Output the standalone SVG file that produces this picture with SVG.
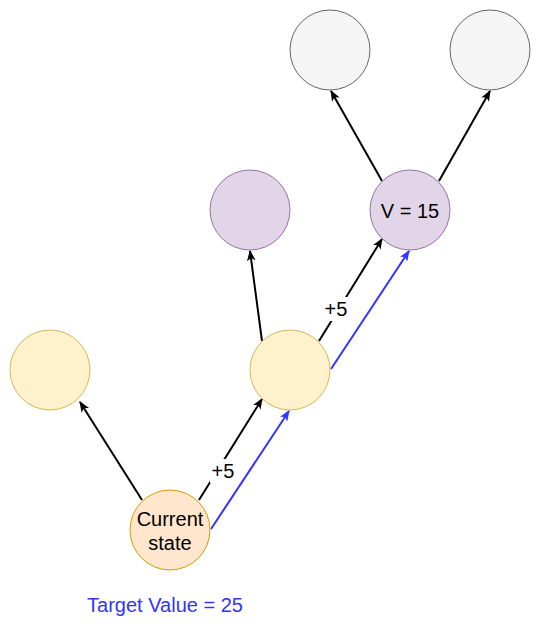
<svg xmlns="http://www.w3.org/2000/svg" width="541" height="631" viewBox="0 0 541 631">
<style>
text{font-family:"Liberation Sans",Arial,sans-serif;font-size:20px;fill:#000;text-anchor:middle}
.e{stroke:#000;stroke-width:2;fill:none}
.b{stroke:#3333ff;stroke-width:2;fill:none}
.gray{fill:#f5f5f5;stroke:#666666}
.pur{fill:#e1d5e7;stroke:#9673a6}
.yel{fill:#fff2cc;stroke:#d6b656}
.ora{fill:#ffe6cc;stroke:#d79b00}
</style>
<defs>
<marker id="ak" viewBox="0 0 10 8" refX="9" refY="4" markerWidth="5.5" markerHeight="4.4" orient="auto" markerUnits="strokeWidth"><path d="M0,0 L10,4 L0,8 L2.5,4 Z" fill="#000"/></marker>
<marker id="ab" viewBox="0 0 10 8" refX="9" refY="4" markerWidth="5.5" markerHeight="4.4" orient="auto" markerUnits="strokeWidth"><path d="M0,0 L10,4 L0,8 L2.5,4 Z" fill="#3333ff"/></marker>
</defs>
<g id="connectors">
<line class="e" x1="142" y1="500" x2="80" y2="402" marker-end="url(#ak)"/>
<line class="e" x1="199" y1="500" x2="262" y2="399" marker-end="url(#ak)"/>
<line class="b" x1="211" y1="529" x2="289" y2="411" marker-end="url(#ab)"/>
<line class="e" x1="262" y1="341" x2="250" y2="251" marker-end="url(#ak)"/>
<line class="e" x1="319" y1="341" x2="382" y2="239" marker-end="url(#ak)"/>
<line class="b" x1="331" y1="369" x2="409" y2="251" marker-end="url(#ab)"/>
<line class="e" x1="382" y1="181" x2="331" y2="91" marker-end="url(#ak)"/>
<line class="e" x1="439" y1="181" x2="490" y2="91" marker-end="url(#ak)"/>
<rect x="210" y="459" width="26" height="24" fill="#fff"/>
<text x="223" y="478">+5</text>
<rect x="323" y="297" width="26" height="24" fill="#fff"/>
<text x="336" y="316">+5</text>
</g>
<g id="n1"><circle class="gray" cx="330" cy="50" r="40"/></g>
<g id="n2"><circle class="gray" cx="490" cy="50" r="40"/></g>
<g id="n3"><circle class="pur" cx="250" cy="210" r="40"/></g>
<g id="n4"><circle class="pur" cx="410" cy="210" r="40"/><text x="410" y="218">V = 15</text></g>
<g id="n5"><circle class="yel" cx="50" cy="370" r="40"/></g>
<g id="n6"><circle class="yel" cx="290" cy="370" r="40"/></g>
<g id="n7"><circle class="ora" cx="170" cy="530" r="40"/><text x="170" y="526">Current</text><text x="170" y="550">state</text></g>
<g id="target"><text x="165" y="612" style="fill:#3333ff">Target Value = 25</text></g>
</svg>
